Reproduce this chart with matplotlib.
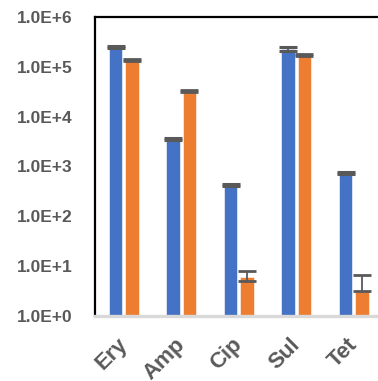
import matplotlib
matplotlib.use("Agg")
import matplotlib.pyplot as plt
import matplotlib.transforms as mtransforms
import numpy as np

# ---- data ----
drugs = ["Ery", "Amp", "Cip", "Sul", "Tet"]
blue_vals = [2.5e5, 3.6e3, 4.3e2, 2.27e5, 7.4e2]
blue_err = [1.4e4, 2.0e2, 2.5e1, 1.8e4, 4.0e1]
orange_vals = [1.38e5, 3.3e4, 6.0, 1.74e5, 3.2]
orange_err_lo = [5.0e3, 1.5e3, 1.0, 8.0e3, 0.0]
orange_err_hi = [5.0e3, 1.5e3, 1.9, 8.0e3, 3.4]
ytick_labels = ["1.0E+0", "1.0E+1", "1.0E+2", "1.0E+3", "1.0E+4", "1.0E+5", "1.0E+6"]

plt.rcParams["font.family"] = ["Liberation Sans", "DejaVu Sans"]

fig = plt.figure(figsize=(3.78, 3.81), dpi=100)
ax = fig.add_axes([0.2513, 0.1706, 0.7606, 0.7848])

x = np.arange(len(drugs))
w = 0.235
off = 0.14
grey = "#595959"

ax.bar(x - off, blue_vals, w, bottom=0, color="#4472C4", edgecolor="white", linewidth=0.4, zorder=2)
ax.bar(x + off, orange_vals, w, bottom=0, color="#ED7D31", edgecolor="white", linewidth=0.4, zorder=2)
ax.errorbar(x - off, blue_vals, yerr=blue_err, fmt="none", ecolor=grey,
            elinewidth=1.3, capsize=6.5, capthick=2.2, zorder=3)
ax.errorbar(x + off, orange_vals, yerr=[orange_err_lo, orange_err_hi], fmt="none",
            ecolor=grey, elinewidth=1.3, capsize=6.5, capthick=2.0, zorder=3)

ax.set_yscale("log")
ax.set_ylim(1, 1e6)
ax.set_xlim(-0.5, 4.5)
ax.set_yticks([10.0 ** i for i in range(7)])
ax.set_yticklabels(ytick_labels)
ax.minorticks_off()
ax.tick_params(axis="y", length=0, pad=16, labelsize=12.5, labelcolor=grey)
ax.tick_params(axis="x", length=0, pad=13)
ax.set_xticks(x)
ax.set_xticklabels(drugs, rotation=45, ha="right", va="top", rotation_mode="anchor",
                   fontsize=16, color=grey, fontweight="bold")
for lbl in ax.get_yticklabels():
    lbl.set_fontweight("bold")
# nudge the slanted labels a little to the left
shift = mtransforms.ScaledTranslation(-5 / 72, 0, fig.dpi_scale_trans)
for lbl in ax.get_xticklabels():
    lbl.set_transform(lbl.get_transform() + shift)

ax.spines["top"].set_linewidth(1.6)
ax.spines["top"].set_color("black")
ax.spines["left"].set_linewidth(1.6)
ax.spines["left"].set_color("black")
ax.spines["right"].set_visible(False)
ax.spines["bottom"].set_color("#D9D9D9")
ax.spines["bottom"].set_linewidth(2.4)
ax.spines["bottom"].set_zorder(4)

fig.savefig("out.png", dpi=100)
